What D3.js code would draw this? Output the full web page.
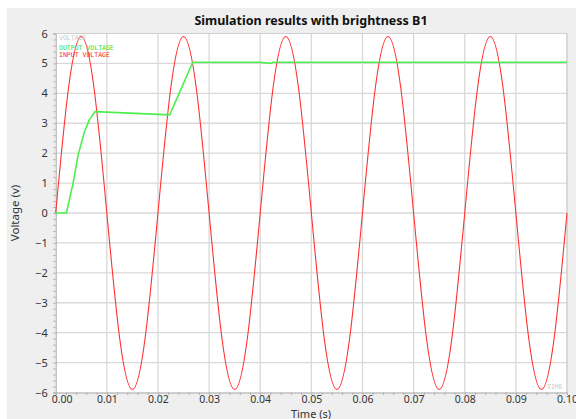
<!DOCTYPE html>
<html>
<head>
<meta charset="utf-8">
<script src="https://cdn.jsdelivr.net/npm/d3@7"></script>
<style>
  html, body { margin: 0; padding: 0; background: #ffffff; }
  svg { display: block; }
</style>
</head>
<body>
<svg id="chart" width="576" height="419"></svg>
<script>
// Time ticks (s) and voltage ticks (V)
const timeTicks = [0, 0.01, 0.02, 0.03, 0.04, 0.05, 0.06, 0.07, 0.08, 0.09, 0.10];
const voltTicks = [-6, -5, -4, -3, -2, -1, 0, 1, 2, 3, 4, 5, 6];

// Input voltage samples, every 1/8 of a 20 ms period
const inputTime = [
  0, 0.0025, 0.005, 0.0075, 0.01, 0.0125, 0.015, 0.0175,
  0.02, 0.0225, 0.025, 0.0275, 0.03, 0.0325, 0.035, 0.0375,
  0.04, 0.0425, 0.045, 0.0475, 0.05, 0.0525, 0.055, 0.0575,
  0.06, 0.0625, 0.065, 0.0675, 0.07, 0.0725, 0.075, 0.0775,
  0.08, 0.0825, 0.085, 0.0875, 0.09, 0.0925, 0.095, 0.0975, 0.1
];
const inputVolt = [
  0, 4.17, 5.9, 4.17, 0, -4.17, -5.9, -4.17,
  0, 4.17, 5.9, 4.17, 0, -4.17, -5.9, -4.17,
  0, 4.17, 5.9, 4.17, 0, -4.17, -5.9, -4.17,
  0, 4.17, 5.9, 4.17, 0, -4.17, -5.9, -4.17,
  0, 4.17, 5.9, 4.17, 0, -4.17, -5.9, -4.17, 0
];

// Output voltage breakpoints
const outputTime = [0, 0.0021, 0.0034, 0.0044, 0.0056, 0.0066, 0.0077, 0.0223, 0.0268, 0.0398, 0.0421, 0.0425, 0.1];
const outputVolt = [0, 0, 1.0, 1.95, 2.7, 3.12, 3.39, 3.28, 5.04, 5.04, 5.0, 5.04, 5.04];

const W = 576, H = 419;
const svg = d3.select("#chart");
const font = "'Noto Sans', 'Open Sans', sans-serif";

// Backgrounds
svg.append("rect").attr("width", W).attr("height", H).attr("fill", "#ffffff");
svg.append("rect").attr("x", 7).attr("y", 8).attr("width", W - 7).attr("height", H - 8).attr("fill", "#efefef");

const x = d3.scaleLinear().domain([0, 0.1]).range([55.7, 567]);
const y = d3.scaleLinear().domain([-6, 6]).range([392.5, 33.5]);

// Plot area
svg.append("rect")
  .attr("x", x(0)).attr("y", y(6))
  .attr("width", x(0.1) - x(0)).attr("height", y(-6) - y(6))
  .attr("fill", "#ffffff");

// Grid
const grid = svg.append("g").attr("stroke", "#d9d9d9").attr("stroke-width", 1.3);
grid.selectAll("line.v").data(timeTicks.slice(1, -1)).join("line")
  .attr("x1", d => x(d)).attr("x2", d => x(d))
  .attr("y1", y(6)).attr("y2", y(-6));
grid.selectAll("line.h").data(voltTicks.slice(1, -1)).join("line")
  .attr("x1", x(0)).attr("x2", x(0.1))
  .attr("y1", d => y(d)).attr("y2", d => y(d));

// Frame: top and right edges
svg.append("line").attr("x1", x(0)).attr("x2", x(0.1)).attr("y1", y(6)).attr("y2", y(6))
  .attr("stroke", "#cfcfcf").attr("stroke-width", 1);
svg.append("line").attr("x1", x(0.1)).attr("x2", x(0.1)).attr("y1", y(6)).attr("y2", y(-6))
  .attr("stroke", "#cfcfcf").attr("stroke-width", 1.5);

// Minor tick axes
const minorX = d3.range(0, 51).map(i => i * 0.002);
const minorY = d3.range(0, 61).map(i => -6 + i * 0.2);
const gxMinor = svg.append("g").attr("transform", `translate(0,${y(-6)})`)
  .call(d3.axisBottom(x).tickValues(minorX).tickSize(2.5).tickFormat(""));
const gyMinor = svg.append("g").attr("transform", `translate(${x(0)},0)`)
  .call(d3.axisLeft(y).tickValues(minorY).tickSize(2.5).tickFormat(""));
[gxMinor, gyMinor].forEach(g => {
  g.select(".domain").attr("stroke", "#a8a8a8");
  g.selectAll(".tick line").attr("stroke", "#b0b0b0");
});

// Labelled axes
const gx = svg.append("g").attr("transform", `translate(0,${y(-6)})`)
  .call(d3.axisBottom(x).tickValues(timeTicks).tickSize(0).tickPadding(3.5).tickFormat(d3.format(".2f")));
gx.select(".domain").remove();
gx.selectAll("text").attr("font-family", font).attr("font-size", 10.5).attr("fill", "#333");
gx.selectAll(".tick").filter(d => d === 0).select("text").attr("dx", 6);

const gy = svg.append("g").attr("transform", `translate(${x(0)},0)`)
  .call(d3.axisLeft(y).tickValues(voltTicks).tickSize(0).tickPadding(8).tickFormat(d3.format("d")));
gy.select(".domain").remove();
gy.selectAll("text").attr("font-family", font).attr("font-size", 11).attr("fill", "#333");

// Series
const plot = svg.append("g");

plot.append("path")
  .datum(inputTime.map((t, i) => [t, inputVolt[i]]))
  .attr("d", d3.line().x(d => x(d[0])).y(d => y(d[1])).curve(d3.curveNatural))
  .attr("fill", "none").attr("stroke", "#ff3030").attr("stroke-width", 1.1);

plot.append("path")
  .datum(outputTime.map((t, i) => [t, outputVolt[i]]))
  .attr("d", d3.line().x(d => x(d[0])).y(d => y(d[1])).curve(d3.curveLinear))
  .attr("fill", "none").attr("stroke", "#4cf04c").attr("stroke-width", 1.6)
  .attr("stroke-linejoin", "round");

// In-plot legend and axis captions
const mono = "'DejaVu Sans Mono', 'Liberation Mono', monospace";
svg.append("text").attr("x", 59).attr("y", 39.5).text("VOLTAGE")
  .attr("font-family", mono).attr("font-size", 6.5).attr("fill", "#c8c8c8");
svg.append("text").attr("x", 59).attr("y", 50).text("OUTPUT VOLTAGE")
  .attr("font-family", mono).attr("font-size", 6.5).attr("fill", "#33dd33");
svg.append("text").attr("x", 59).attr("y", 56.5).text("INPUT VOLTAGE")
  .attr("font-family", mono).attr("font-size", 6.5).attr("fill", "#ff2a2a");
svg.append("text").attr("x", 547).attr("y", 388.5).text("TIME")
  .attr("font-family", mono).attr("font-size", 6.5).attr("fill", "#c8c8c8");

// Title and axis titles
svg.append("text").attr("x", 311).attr("y", 25).attr("text-anchor", "middle")
  .attr("font-family", font).attr("font-size", 12.5).attr("font-weight", "bold").attr("fill", "#111")
  .text("Simulation results with brightness B1");
svg.append("text").attr("x", 311).attr("y", 417.5).attr("text-anchor", "middle")
  .attr("font-family", font).attr("font-size", 11).attr("fill", "#333")
  .text("Time (s)");
svg.append("text").attr("transform", "translate(19,213) rotate(-90)").attr("text-anchor", "middle")
  .attr("font-family", font).attr("font-size", 11.5).attr("fill", "#333")
  .text("Voltage (v)");
</script>
</body>
</html>
